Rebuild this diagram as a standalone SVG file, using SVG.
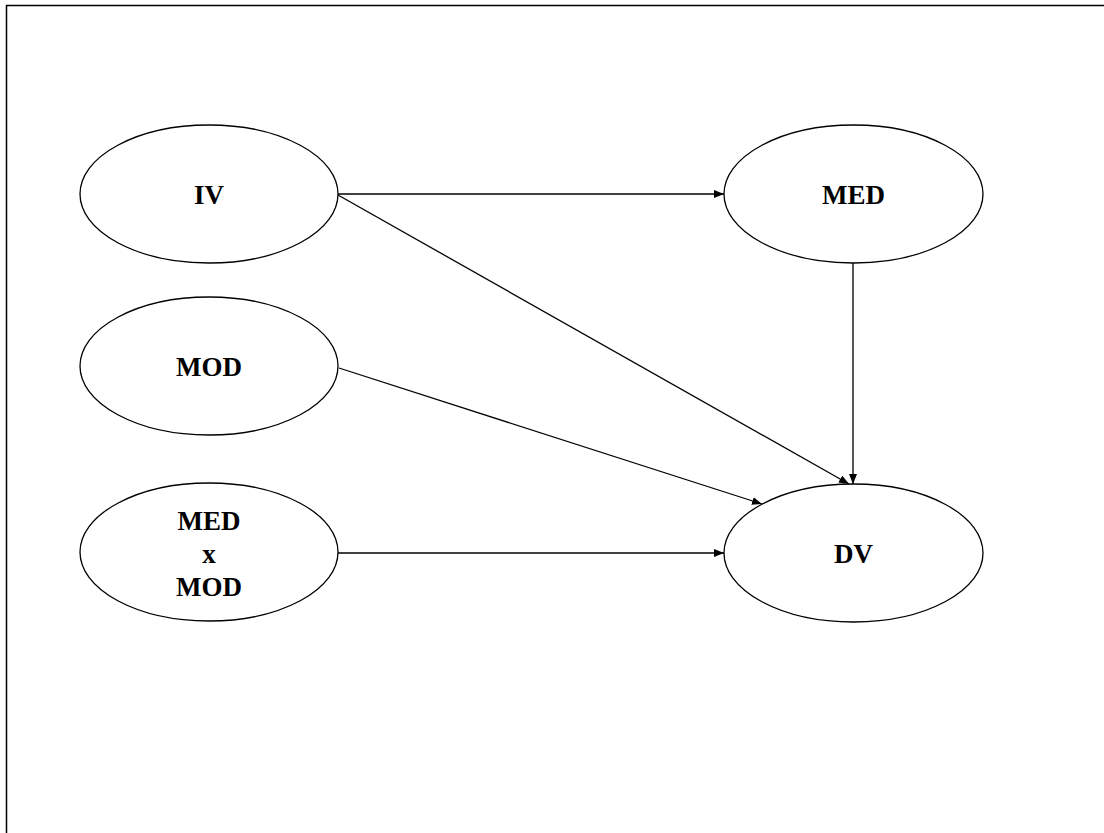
<svg xmlns="http://www.w3.org/2000/svg" width="1104" height="833" viewBox="0 0 1104 833">
  <style>
    .node ellipse { fill: #ffffff; stroke: #000000; stroke-width: 1.3; }
    .node text { font-family: "Liberation Serif", "Times New Roman", serif; font-weight: bold; font-size: 27px; fill: #000000; text-anchor: middle; }
    .edge { stroke: #000000; stroke-width: 1.3; fill: none; marker-end: url(#arrow); }
    .frame { stroke: #000000; stroke-width: 1.5; fill: none; }
  </style>
  <defs>
    <marker id="arrow" viewBox="0 0 10 8" refX="10" refY="4" markerWidth="10" markerHeight="8" markerUnits="userSpaceOnUse" orient="auto">
      <path d="M0,0 L10,4 L0,8 z" fill="#000000"/>
    </marker>
  </defs>
  <rect width="1104" height="833" fill="#ffffff"/>
  <path class="frame" d="M6.5,833 V5.5 H1104"/>

  <g id="connectors">
    <line class="edge" x1="338" y1="194" x2="724" y2="194"/>
    <line class="edge" x1="338" y1="195" x2="849" y2="484"/>
    <line class="edge" x1="853" y1="263" x2="853" y2="484"/>
    <line class="edge" x1="339" y1="368" x2="762" y2="504"/>
    <line class="edge" x1="338" y1="553" x2="724" y2="553"/>
  </g>

  <g id="node-iv" class="node">
    <ellipse cx="209" cy="194" rx="129" ry="69"/>
    <text x="209" y="204">IV</text>
  </g>
  <g id="node-med" class="node">
    <ellipse cx="853.5" cy="194" rx="129.5" ry="69"/>
    <text x="853.5" y="204">MED</text>
  </g>
  <g id="node-mod" class="node">
    <ellipse cx="209" cy="366" rx="129" ry="69"/>
    <text x="209" y="376">MOD</text>
  </g>
  <g id="node-medxmod" class="node">
    <ellipse cx="209" cy="552" rx="129" ry="69"/>
    <text x="209" y="530">MED</text>
    <text x="209" y="563">x</text>
    <text x="209" y="596">MOD</text>
  </g>
  <g id="node-dv" class="node">
    <ellipse cx="853.5" cy="553" rx="129.5" ry="69"/>
    <text x="853.5" y="563">DV</text>
  </g>
</svg>
